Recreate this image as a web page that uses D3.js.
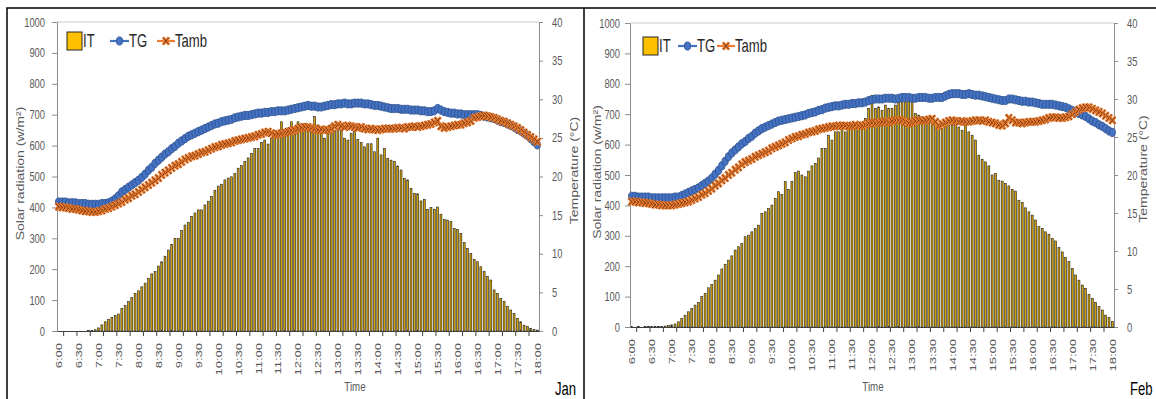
<!DOCTYPE html>
<html>
<head>
<meta charset="utf-8">
<script src="https://cdn.jsdelivr.net/npm/d3@7"></script>
<style>
  body { margin: 0; background: #fff; }
  svg { display: block; }
</style>
</head>
<body>
<svg id="chart" width="1156" height="399"></svg>
<script>
// 5-minute slots from 6:00 to 18:00
var times = d3.range(145).map(function(i) {
  var m = 360 + i * 5;
  return Math.floor(m / 60) + ":" + String(m % 60).padStart(2, "0");
});
var tickLabels = ["6:00","6:30","7:00","7:30","8:00","8:30","9:00","9:30","10:00","10:30","11:00","11:30",
  "12:00","12:30","13:00","13:30","14:00","14:30","15:00","15:30","16:00","16:30","17:00","17:30","18:00"];
var radTicks = [0,100,200,300,400,500,600,700,800,900,1000];
var tempTicks = [0,5,10,15,20,25,30,35,40];
var seriesNames = ["IT", "TG", "Tamb"];

// January
var itJan = [0,0,0,0,0,0,0,0,0,1,
  2,4,10,20,30,38,44,50,55,73,
  82,95,108,122,130,143,155,170,185,192,
  210,224,242,262,280,300,300,325,343,352,
  370,382,392,392,408,420,435,455,469,475,
  489,495,499,510,527,535,548,560,575,590,
  591,610,618,605,624,632,640,677,650,657,
  677,660,677,670,672,667,660,694,667,655,
  624,660,667,650,648,650,624,618,640,645,
  620,610,596,606,606,580,624,570,591,559,
  553,548,534,521,494,489,462,445,444,421,
  426,394,400,394,401,378,361,359,354,332,
  329,316,286,267,251,232,224,208,192,176,
  165,133,122,106,95,79,68,57,41,30,
  19,14,9,5,3];
var tgJan = [16.7,16.7,16.7,16.6,16.6,16.6,16.5,16.5,16.5,16.4,
  16.4,16.4,16.4,16.5,16.5,16.6,16.8,17.1,17.5,18.0,
  18.3,18.6,18.9,19.2,19.5,19.9,20.3,20.8,21.2,21.7,
  22.1,22.5,22.9,23.2,23.6,23.9,24.3,24.6,24.9,25.2,
  25.4,25.6,25.8,26.0,26.2,26.4,26.6,26.8,26.9,27.1,
  27.2,27.3,27.4,27.6,27.7,27.8,27.9,27.9,28.0,28.1,
  28.2,28.2,28.3,28.3,28.4,28.4,28.5,28.5,28.5,28.6,
  28.7,28.8,28.9,29.0,29.1,29.2,29.1,29.1,29.0,29.0,
  29.1,29.2,29.3,29.3,29.4,29.4,29.5,29.4,29.4,29.5,
  29.5,29.5,29.4,29.4,29.3,29.2,29.2,29.1,29.0,28.9,
  28.8,28.8,28.8,28.7,28.7,28.7,28.6,28.6,28.6,28.5,
  28.5,28.4,28.4,28.5,28.8,28.6,28.4,28.3,28.2,28.2,
  28.1,28.1,28.0,28.0,28.0,28.0,28.0,27.9,27.8,27.7,
  27.6,27.5,27.3,27.1,27.0,26.8,26.6,26.4,26.1,25.9,
  25.6,25.3,24.9,24.5,24.1];
var tambJan = [16.1,16.0,16.0,15.9,15.8,15.8,15.7,15.6,15.5,15.5,
  15.4,15.4,15.5,15.6,15.8,15.9,16.1,16.3,16.5,16.7,
  17.0,17.2,17.5,17.7,18.0,18.3,18.6,18.9,19.2,19.5,
  19.8,20.2,20.5,20.8,21.1,21.4,21.6,21.9,22.2,22.4,
  22.6,22.7,22.9,23.1,23.2,23.4,23.6,23.8,23.9,24.1,
  24.2,24.3,24.4,24.6,24.7,24.8,24.9,25.0,25.1,25.2,
  25.4,25.5,25.7,25.8,25.6,25.4,25.5,25.6,25.7,25.8,
  25.9,26.0,26.2,26.3,26.4,26.4,26.3,26.1,26.0,26.1,
  26.0,26.0,26.2,26.5,26.7,26.5,26.4,26.6,26.5,26.4,
  26.3,26.4,26.2,26.1,26.2,26.1,26.0,26.1,26.2,26.2,
  26.2,26.2,26.3,26.3,26.2,26.4,26.4,26.5,26.4,26.5,
  26.6,26.7,26.8,27.0,27.2,26.5,26.3,26.4,26.5,26.6,
  26.7,26.7,26.9,27.0,27.2,27.6,27.7,27.8,27.9,27.8,
  27.7,27.6,27.4,27.2,27.1,26.9,26.7,26.5,26.3,26.0,
  25.7,25.4,25.1,24.8,24.5];

// February
var itFeb = [1,0,1,0,1,1,1,2,2,2,
  3,5,7,10,17,28,39,50,61,72,
  81,100,111,129,140,154,171,191,206,220,
  234,253,264,275,297,302,313,324,335,374,
  379,390,401,423,445,436,478,453,478,508,
  513,500,494,513,530,538,556,587,587,631,
  615,642,642,653,642,653,653,653,655,658,
  686,719,762,719,724,713,730,719,719,730,
  740,740,740,762,762,702,697,691,680,680,
  688,669,658,653,669,664,664,666,658,647,
  669,642,631,615,565,552,543,530,500,505,
  483,480,472,464,453,447,417,410,392,379,
  368,352,330,324,313,305,291,283,261,247,
  228,215,193,171,154,138,127,107,94,81,
  67,56,39,31,18];
var tgFeb = [17.2,17.2,17.1,17.1,17.1,17.1,17.0,17.0,17.0,17.0,
  17.0,17.0,17.0,17.1,17.1,17.3,17.5,17.7,17.9,18.1,
  18.3,18.6,18.9,19.2,19.6,20.1,20.6,21.2,21.8,22.4,
  22.9,23.3,23.7,24.1,24.4,24.8,25.1,25.5,25.8,26.1,
  26.3,26.5,26.7,26.9,27.1,27.2,27.3,27.4,27.5,27.6,
  27.7,27.8,27.9,28.1,28.2,28.3,28.5,28.6,28.8,28.9,
  29.0,29.1,29.1,29.2,29.3,29.3,29.4,29.4,29.5,29.5,
  29.6,29.8,29.9,30.0,30.0,30.0,30.1,30.1,30.1,30.0,
  30.1,30.2,30.2,30.2,30.1,30.1,30.2,30.2,30.2,30.1,
  30.1,30.2,30.2,30.2,30.4,30.6,30.7,30.7,30.7,30.6,
  30.6,30.7,30.6,30.5,30.5,30.4,30.3,30.2,30.1,30.0,
  29.9,29.8,29.8,30.0,30.0,29.9,29.8,29.7,29.7,29.6,
  29.6,29.5,29.4,29.3,29.3,29.3,29.3,29.2,29.1,29.0,
  28.9,28.7,28.5,28.3,28.1,27.9,27.7,27.4,27.1,26.9,
  26.6,26.4,26.1,25.8,25.6];
var tambFeb = [16.5,16.5,16.4,16.4,16.3,16.3,16.2,16.1,16.1,16.0,
  16.0,16.0,16.0,16.1,16.2,16.3,16.4,16.5,16.7,16.9,
  17.1,17.4,17.6,17.9,18.2,18.6,18.9,19.3,19.6,20.0,
  20.3,20.7,21.0,21.4,21.7,21.9,22.1,22.4,22.6,22.8,
  23.0,23.2,23.5,23.7,23.9,24.1,24.3,24.6,24.8,25.0,
  25.1,25.3,25.4,25.6,25.7,25.8,26.0,26.1,26.2,26.3,
  26.4,26.4,26.5,26.5,26.5,26.4,26.5,26.6,26.5,26.5,
  26.6,26.8,26.9,26.8,26.9,27.0,27.0,26.9,27.1,27.2,
  27.2,27.2,27.0,26.8,26.9,27.1,27.2,27.1,27.2,27.3,
  27.4,27.0,26.5,26.7,26.9,27.1,27.2,27.1,27.0,27.1,
  27.0,27.0,27.1,27.2,27.2,27.1,27.2,27.0,26.9,26.8,
  26.6,26.5,26.8,27.5,27.2,26.9,26.9,26.8,26.9,27.0,
  27.0,27.0,27.1,27.2,27.3,27.5,27.6,27.6,27.5,27.5,
  27.6,27.7,28.0,28.3,28.6,28.8,28.9,28.9,28.7,28.5,
  28.3,28.1,27.8,27.5,27.2];

var FONT = '"Liberation Sans", Arial, sans-serif';
var SQ = 0.75;   // the picture is squeezed sideways, so is the text
var svg = d3.select("#chart");

// outer frame lines
svg.append("path")
  .attr("d", "M7,399V8H1156M584,8V399")
  .attr("fill", "none").attr("stroke", "#000").attr("stroke-width", 1.5);

function label(parent, x, y, str, size, fill, anchor, rotate) {
  return parent.append("text")
    .attr("transform", "translate(" + x + "," + y + ") scale(" + SQ + ",1)" + (rotate ? " rotate(-90)" : ""))
    .attr("text-anchor", anchor || "start")
    .attr("font-family", FONT)
    .attr("font-size", size)
    .attr("fill", fill)
    .text(str);
}

function tgMarker(sel) {
  sel.attr("rx", 3.1).attr("ry", 4.1)
    .attr("fill", "#4472C4").attr("stroke", "#2F528F").attr("stroke-width", 0.9);
}
function tambMarker(sel) {
  sel.append("path").attr("d", "M-3,-3.6L3,3.6M-3,3.6L3,-3.6")
    .attr("stroke", "#ED7D31").attr("stroke-width", 3);
  sel.append("path").attr("d", "M-3,-3.6L3,3.6M-3,3.6L3,-3.6")
    .attr("stroke", "#7A3A10").attr("stroke-width", 1);
}

function panel(p, month, it, tg, tamb) {
  var w = p.w, h = p.h;
  var g = svg.append("g").attr("transform", "translate(" + p.x0 + "," + p.y0 + ")");

  var x = d3.scaleBand().domain(times).range([0, w]).paddingInner(0.42).paddingOuter(0.21);
  var xl = d3.scaleLinear().domain([0, times.length]).range([0, w]);
  var yR = d3.scaleLinear().domain([0, 1000]).range([h, 0]);
  var yT = d3.scaleLinear().domain([0, 40]).range([h, 0]);
  var cx = function(d, i) { return x(times[i]) + x.bandwidth() / 2; };

  // plot area top border
  g.append("line").attr("x1", 0).attr("x2", w).attr("y1", 0).attr("y2", 0)
    .attr("stroke", "#c8c8c8");

  // IT bars
  g.append("g").selectAll("rect")
    .data(it)
    .join("rect")
    .attr("x", function(d, i) { return x(times[i]); })
    .attr("y", function(d) { return yR(d); })
    .attr("width", x.bandwidth())
    .attr("height", function(d) { return h - yR(d); })
    .attr("fill", "#D3A000")
    .attr("stroke", "#222")
    .attr("stroke-width", 0.6);

  // left axis
  var axL = g.append("g")
    .call(d3.axisLeft(yR).tickValues(radTicks).tickFormat(d3.format("d")).tickSize(5).tickSizeOuter(0));
  axL.select(".domain").attr("stroke", "#8c8c8c");
  axL.selectAll(".tick line").attr("stroke", "#8c8c8c");
  axL.selectAll("text")
    .attr("font-family", FONT).attr("font-size", 12.5).attr("fill", "#595959")
    .attr("x", -p.labL / SQ).attr("transform", "scale(" + SQ + ",1)");

  // right axis
  var axR = g.append("g").attr("transform", "translate(" + w + ",0)")
    .call(d3.axisRight(yT).tickValues(tempTicks).tickFormat(d3.format("d")).tickSize(4).tickSizeOuter(0));
  axR.select(".domain").attr("stroke", "#8c8c8c");
  axR.selectAll(".tick line").attr("stroke", "#8c8c8c");
  axR.selectAll("text")
    .attr("font-family", FONT).attr("font-size", 12.5).attr("fill", "#595959")
    .attr("x", 13 / SQ).attr("transform", "scale(" + SQ + ",1)");

  // bottom axis
  var axB = g.append("g").attr("transform", "translate(0," + h + ")")
    .call(d3.axisBottom(x).tickValues(tickLabels).tickSize(0).tickSizeOuter(0));
  axB.select(".domain").attr("stroke", "#404040");
  axB.selectAll("text")
    .attr("font-family", FONT).attr("font-size", 13).attr("fill", "#595959")
    .attr("x", 0).attr("y", 0).attr("dy", "0.35em")
    .attr("text-anchor", "end")
    .attr("transform", "translate(0,12) scale(" + SQ + ",1) rotate(-90)");
  axB.append("g").selectAll("line")
    .data(d3.range(2, times.length, 4))
    .join("line")
    .attr("x1", function(d) { return xl(d); }).attr("x2", function(d) { return xl(d); })
    .attr("y1", 0).attr("y2", 5)
    .attr("stroke", "#404040");

  // TG
  g.append("path").datum(tg)
    .attr("fill", "none").attr("stroke", "#4472C4").attr("stroke-width", 2.2)
    .attr("d", d3.line().x(cx).y(function(d) { return yT(d); }));
  g.append("g").selectAll("ellipse").data(tg).join("ellipse")
    .attr("cx", cx).attr("cy", function(d) { return yT(d); })
    .call(tgMarker);

  // Tamb
  g.append("path").datum(tamb)
    .attr("fill", "none").attr("stroke", "#ED7D31").attr("stroke-width", 2.2)
    .attr("d", d3.line().x(cx).y(function(d) { return yT(d); }));
  g.append("g").selectAll("g").data(tamb).join("g")
    .attr("transform", function(d, i) { return "translate(" + cx(d, i) + "," + yT(d) + ")"; })
    .call(tambMarker);

  // axis titles
  label(svg, p.titleL, p.y0 + h / 2 - 3, "Solar radiation (w/m\u00B2)", 14, "#595959", "middle", true)
    .attr("dy", "0.35em");
  label(svg, p.titleR, p.y0 + h / 2 - 6, "Temperature (\u00B0C)", 14, "#595959", "middle", true)
    .attr("dy", "0.35em");
  label(svg, p.x0 + w / 2 + p.timeDx, 391, "Time", 13, "#595959", "middle");
  label(svg, p.monthX, 395, month, 17.5, "#000", "start");

  // legend
  var lg = p.legend;
  svg.append("rect").attr("x", lg.box).attr("y", lg.y - 9).attr("width", 15).attr("height", 18)
    .attr("fill", "#FFC000").attr("stroke", "#262626").attr("stroke-width", 1);
  label(svg, lg.box + 16, lg.y + 6, seriesNames[0], 17.5, "#262626");
  svg.append("line").attr("x1", lg.tg).attr("x2", lg.tg + 19).attr("y1", lg.y).attr("y2", lg.y)
    .attr("stroke", "#4472C4").attr("stroke-width", 2.2);
  svg.append("ellipse").attr("cx", lg.tg + 9.5).attr("cy", lg.y).call(tgMarker);
  label(svg, lg.tg + 19, lg.y + 6, seriesNames[1], 17.5, "#262626");
  svg.append("line").attr("x1", lg.ta).attr("x2", lg.ta + 18).attr("y1", lg.y).attr("y2", lg.y)
    .attr("stroke", "#ED7D31").attr("stroke-width", 2.2);
  svg.append("g").attr("transform", "translate(" + (lg.ta + 9) + "," + lg.y + ")").call(tambMarker);
  label(svg, lg.ta + 18, lg.y + 6, seriesNames[2], 17.5, "#262626");
}

panel({ x0: 57, y0: 22, w: 482, h: 309, labL: 12, titleL: 20, titleR: 574, timeDx: 57, monthX: 555,
        legend: { box: 67, y: 41, tg: 110, ta: 157 } },
      "Jan", itJan, tgJan, tambJan);
panel({ x0: 630, y0: 23, w: 484, h: 304, labL: 10, titleL: 597, titleR: 1143, timeDx: 1, monthX: 1130,
        legend: { box: 643, y: 46, tg: 678, ta: 717 } },
      "Feb", itFeb, tgFeb, tambFeb);
</script>
</body>
</html>
